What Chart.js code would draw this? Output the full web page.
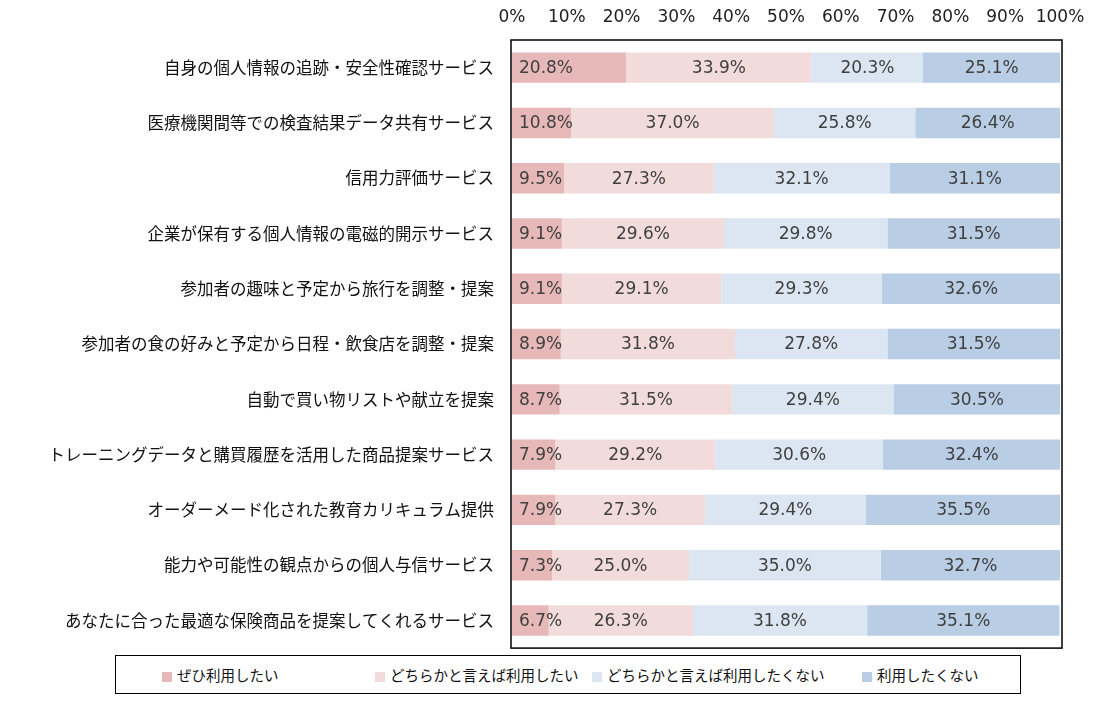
<!DOCTYPE html>
<html lang="ja">
<head>
<meta charset="utf-8">
<script src="https://cdn.jsdelivr.net/npm/chart.js@4"></script>
<style>
  body { margin: 0; background: #fff; }
  #wrap { position: relative; width: 1100px; height: 703px; }
  #legend {
    position: absolute; left: 115px; top: 655px; width: 904px; height: 37px;
    border: 1.5px solid #000; font-family: 'Noto Sans CJK JP', sans-serif;
    font-size: 14.5px; color: #111; background: #fff;
  }
  #legend .item { position: absolute; top: 0; line-height: 37px; white-space: nowrap; }
  #legend .box { display: inline-block; width: 10px; height: 10px; margin-right: 5px; vertical-align: -1px; }
</style>
</head>
<body>
<div id="wrap">
  <canvas id="chart" width="1100" height="676"></canvas>
  <div id="legend"></div>
</div>
<script>
const categories = [
  "自身の個人情報の追跡・安全性確認サービス",
  "医療機関間等での検査結果データ共有サービス",
  "信用力評価サービス",
  "企業が保有する個人情報の電磁的開示サービス",
  "参加者の趣味と予定から旅行を調整・提案",
  "参加者の食の好みと予定から日程・飲食店を調整・提案",
  "自動で買い物リストや献立を提案",
  "トレーニングデータと購買履歴を活用した商品提案サービス",
  "オーダーメード化された教育カリキュラム提供",
  "能力や可能性の観点からの個人与信サービス",
  "あなたに合った最適な保険商品を提案してくれるサービス"
];

const seriesNames = ["ぜひ利用したい", "どちらかと言えば利用したい", "どちらかと言えば利用したくない", "利用したくない"];

const definitelyUse = [20.8, 10.8, 9.5, 9.1, 9.1, 8.9, 8.7, 7.9, 7.9, 7.3, 6.7];
const ratherUse = [33.9, 37.0, 27.3, 29.6, 29.1, 31.8, 31.5, 29.2, 27.3, 25.0, 26.3];
const ratherNotUse = [20.3, 25.8, 32.1, 29.8, 29.3, 27.8, 29.4, 30.6, 29.4, 35.0, 31.8];
const notUse = [25.1, 26.4, 31.1, 31.5, 32.6, 31.5, 30.5, 32.4, 35.5, 32.7, 35.1];

const colors = ["#e6b9b8", "#f2dcdb", "#dce6f2", "#b9cde5"];
const font = "'Noto Sans CJK JP', 'Noto Sans', sans-serif";
const numFont = "'DejaVu Sans', sans-serif";

// draws the value labels on each segment
const valueLabels = {
  id: "valueLabels",
  afterDatasetsDraw(chart) {
    const ctx = chart.ctx;
    ctx.save();
    ctx.font = "17px " + numFont;
    ctx.fillStyle = "#404040";
    ctx.textBaseline = "middle";
    chart.data.datasets.forEach((ds, i) => {
      const meta = chart.getDatasetMeta(i);
      meta.data.forEach((bar, j) => {
        const txt = ds.data[j].toFixed(1) + "%";
        if (i === 0) {
          ctx.textAlign = "left";
          ctx.fillText(txt, bar.base + 7, bar.y + 1);
        } else {
          ctx.textAlign = "center";
          ctx.fillText(txt, (bar.x + bar.base) / 2, bar.y + 1);
        }
      });
    });
    ctx.restore();
  }
};

// frame around plot area
const frame = {
  id: "frame",
  afterDraw(chart) {
    const ctx = chart.ctx;
    const a = chart.chartArea;
    ctx.save();
    ctx.strokeStyle = "#000";
    ctx.lineWidth = 1.5;
    ctx.strokeRect(a.left - 1, a.top, a.right - a.left + 3, a.bottom - a.top);
    ctx.restore();
  }
};

new Chart(document.getElementById("chart"), {
  type: "bar",
  data: {
    labels: categories,
    datasets: [
      { label: seriesNames[0], data: definitelyUse, backgroundColor: colors[0] },
      { label: seriesNames[1], data: ratherUse, backgroundColor: colors[1] },
      { label: seriesNames[2], data: ratherNotUse, backgroundColor: colors[2] },
      { label: seriesNames[3], data: notUse, backgroundColor: colors[3] }
    ]
  },
  options: {
    indexAxis: "y",
    responsive: false,
    animation: false,
    layout: { padding: { left: 0, right: 40, top: 0, bottom: 2 } },
    datasets: {
      bar: { barPercentage: 0.55, categoryPercentage: 1, borderWidth: 0 }
    },
    scales: {
      x: {
        position: "top",
        stacked: true,
        min: 0,
        max: 100,
        border: { display: false },
        grid: { display: false, drawTicks: false },
        ticks: {
          stepSize: 10,
          padding: 12,
          color: "#222",
          font: { family: numFont, size: 17 },
          callback: (v) => v + "%"
        },
        afterFit: (s) => { s.height = 40; }
      },
      y: {
        stacked: true,
        border: { display: false },
        grid: { display: false, drawTicks: false },
        ticks: {
          padding: 18,
          color: "#111",
          font: { family: font, size: 16.5 }
        },
        afterFit: (s) => { s.width = 512; }
      }
    },
    plugins: {
      legend: { display: false },
      tooltip: { enabled: false }
    }
  },
  plugins: [valueLabels, frame]
});

// legend below the chart
const legendX = [46, 259, 476, 746];
const legend = document.getElementById("legend");
seriesNames.forEach((name, i) => {
  const item = document.createElement("span");
  item.className = "item";
  item.style.left = legendX[i] + "px";
  item.innerHTML = `<span class="box" style="background:${colors[i]}"></span>${name}`;
  legend.appendChild(item);
});
</script>
</body>
</html>
